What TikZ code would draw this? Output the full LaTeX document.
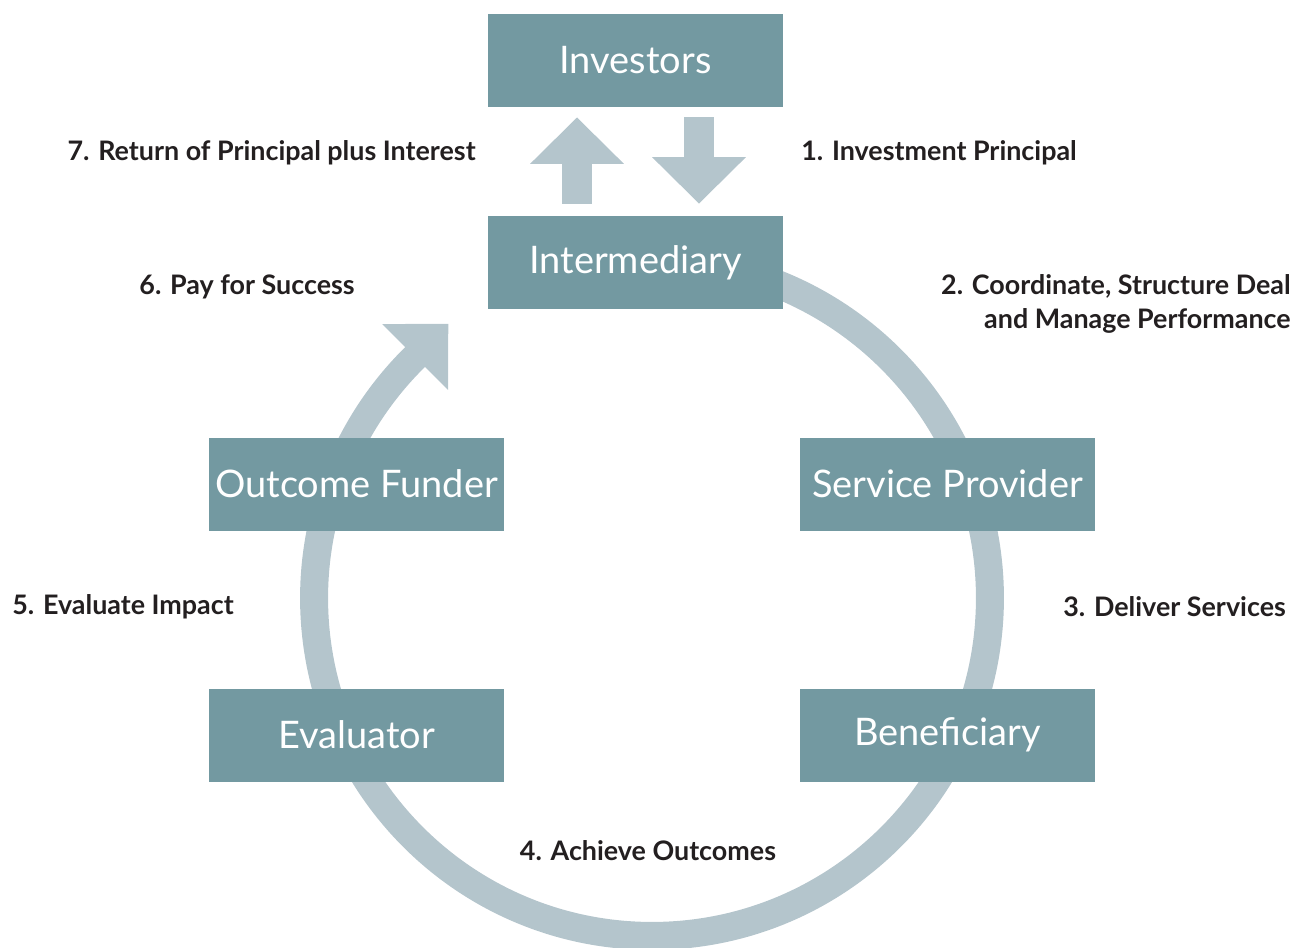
\documentclass[tikz,border=0pt]{standalone}
\usepackage{fontspec}
\setmainfont{Lato}
\usetikzlibrary{arrows.meta}
\definecolor{boxteal}{HTML}{7399A1}
\definecolor{ringgray}{HTML}{B4C5CC}
\definecolor{labeltext}{HTML}{231F20}
\begin{document}
\begin{tikzpicture}[x=0.02cm, y=-0.02cm,
                    party/.style={rectangle, fill=boxteal, text=white,
                                  minimum width=5.9cm, minimum height=1.86cm,
                                  font=\fontsize{21.6}{25}\selectfont},
                    flowlabel/.style={text=labeltext, inner sep=0pt,
                                      font=\bfseries\fontsize{15.3}{19.3}\selectfont},
                    ring/.style={draw=ringgray, line width=0.56cm,
                                 -{Triangle[length=0.94cm, width=1.8cm]}},
                    money/.style={draw=ringgray, line width=0.6cm,
                                  -{Triangle[length=0.93cm, width=1.82cm]}},]
    \useasboundingbox (0,0) rectangle (1294,947);
    \coordinate (ctr) at (652,598);
    \draw[ring] (ctr) ++(90:6.76cm) arc[start angle=90, end angle=-225, radius=6.76cm] -- ++(45:1cm);

    \node[party] (inv) at (635.5,60.5) {Investors};
    \node[party] (inter) at (635.5,262.5) {Intermediary};
    \node[party] (fund) at (356.5,484) {Outcome Funder};
    \node[party] (prov) at (947.5,484) {Service Provider};
    \node[party] (eval) at (356.5,735) {Evaluator};
    \node[party] (bene) at (947.5,735) {Beneficiary};

    \draw[money] ([xshift=-1.17cm, yshift=0.24cm]inter.north) -- ([xshift=-1.17cm, yshift=-0.2cm]inv.south);
    \draw[money] ([xshift=1.27cm, yshift=-0.2cm]inv.south) -- ([xshift=1.27cm, yshift=0.24cm]inter.north);

    \node[flowlabel, anchor=east] (l7) at (476,153) {7. Return of Principal plus Interest};
    \node[flowlabel, anchor=west] (l1) at (801,153) {1. Investment Principal};
    \node[flowlabel, anchor=east] (l6) at (355,287) {6. Pay for Success};
    \node[flowlabel, anchor=east, align=right] (l2) at (1291,304) {2. Coordinate, Structure Deal\\and Manage Performance};
    \node[flowlabel, anchor=west] (l3) at (1063,607) {3. Deliver Services};
    \node[flowlabel, anchor=west] (l5) at (12,607) {5. Evaluate Impact};
    \node[flowlabel] (l4) at (648,851) {4. Achieve Outcomes};
\end{tikzpicture}
\end{document}
